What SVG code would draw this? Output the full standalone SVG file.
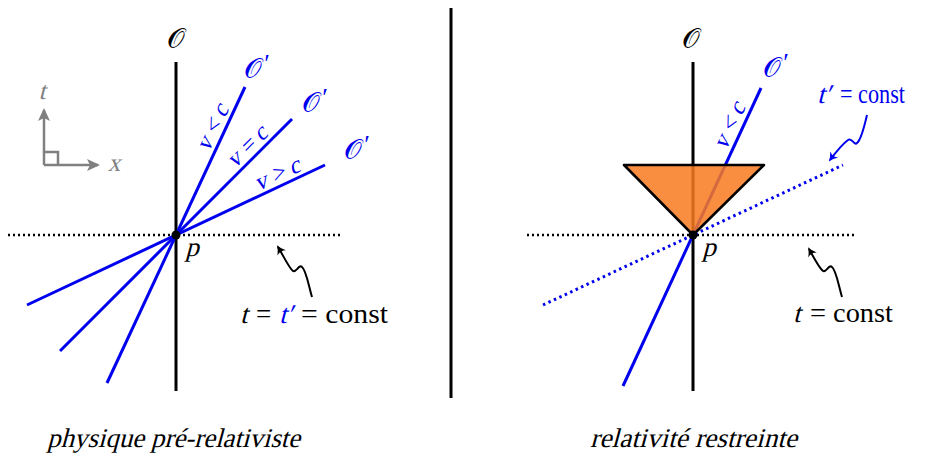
<svg xmlns="http://www.w3.org/2000/svg" width="925" height="461" viewBox="0 0 925 461" font-family="'Liberation Serif', serif">
<style>
.ax{stroke:#000;stroke-width:3;fill:none}
.bl{stroke:#0000ee;stroke-width:3;fill:none}
.dot{stroke:#000;stroke-width:2.5;stroke-dasharray:2 3;fill:none}
.bdot{stroke:#0000ee;stroke-width:3;stroke-dasharray:2.5 3.5;fill:none}
.sq{stroke:#000;stroke-width:2;fill:none}
.bsq{stroke:#0000ee;stroke-width:2;fill:none}
.gr{stroke:#808080;stroke-width:2.5;fill:none}
.b{fill:#0000ee}
.k{fill:#000}
.g{fill:#808080}
.sc{font-family:"DejaVu Serif","DejaVu Sans",serif}
</style>
<defs>
<marker id="ah" markerWidth="12" markerHeight="12" refX="0" refY="0" viewBox="-8 -6 12 12" orient="auto" markerUnits="userSpaceOnUse">
<path d="M2,0 Q-3,-1.5 -7,-5 Q-4,0 -7,5 Q-3,1.5 2,0 Z" fill="#000"/>
</marker>
<marker id="ahb" markerWidth="12" markerHeight="12" refX="0" refY="0" viewBox="-8 -6 12 12" orient="auto" markerUnits="userSpaceOnUse">
<path d="M2,0 Q-3,-1.5 -7,-5 Q-4,0 -7,5 Q-3,1.5 2,0 Z" fill="#0000ee"/>
</marker>
<marker id="ga" markerWidth="14" markerHeight="14" refX="0" refY="0" viewBox="-12 -7 14 14" orient="auto" markerUnits="userSpaceOnUse">
<path d="M2,0 L-11,-6 L-8,0 L-11,6 Z" fill="#808080"/>
</marker>
</defs>

<line id="separator" x1="451" y1="8" x2="451" y2="398" class="ax"/>

<g id="left-panel">
  <g id="axes-legend">
    <path d="M44,165 V110" class="gr" marker-end="url(#ga)"/>
    <path d="M44,165 H98" class="gr" marker-end="url(#ga)"/>
    <path d="M44,152 H58 V165" class="gr" stroke-width="2"/>
    <text transform="translate(42,99) skewX(-15)" class="g" font-size="25" text-anchor="middle">t</text>
    <text transform="translate(114,171) skewX(-15)" class="g" font-size="25" text-anchor="middle">x</text>
  </g>
  <g id="connectors-left">
    <line x1="8" y1="235" x2="340" y2="235" class="dot"/>
    <line x1="176" y1="62" x2="176" y2="391" class="ax"/>
    <line x1="107" y1="383" x2="245" y2="87" class="bl"/>
    <line x1="60" y1="351" x2="292" y2="119" class="bl"/>
    <line x1="27" y1="305" x2="325" y2="165" class="bl"/>
    <path d="M312,297 C308,283 306,270 302,267 C299,264 296,273 293,271 C289,268 283,255 278,247" class="sq" marker-end="url(#ah)"/>
  </g>
  <g id="node-p-left">
    <circle cx="176" cy="235" r="4.5" fill="#000"/>
    <text transform="translate(192,256) skewX(-15)" class="k" font-size="27" text-anchor="middle">p</text>
  </g>
  <g id="labels-left">
    <text x="176" y="48" class="k sc" font-size="28" text-anchor="middle">𝒪</text>
    <text x="253" y="78" class="b sc" font-size="28" text-anchor="middle">𝒪</text>
    <text x="267" y="72" class="b" font-size="26" text-anchor="middle">′</text>
    <text x="311" y="112" class="b sc" font-size="28" text-anchor="middle">𝒪</text>
    <text x="325" y="106" class="b" font-size="26" text-anchor="middle">′</text>
    <text x="353" y="159" class="b sc" font-size="28" text-anchor="middle">𝒪</text>
    <text x="367" y="153" class="b" font-size="26" text-anchor="middle">′</text>
    <text transform="translate(219,131) rotate(-65) skewX(-15)" class="b" font-size="24" text-anchor="middle">v &lt; c</text>
    <text transform="translate(252,152) rotate(-45) skewX(-15)" class="b" font-size="24" text-anchor="middle">v = c</text>
    <text transform="translate(280,181) rotate(-25.2) skewX(-15)" class="b" font-size="24" text-anchor="middle">v &gt; c</text>
    <text transform="translate(240,323) skewX(-15)" class="k" font-size="27">t</text>
    <text x="256" y="323" class="k" font-size="27">=</text>
    <text transform="translate(279,323) skewX(-15)" class="b" font-size="27">t′</text>
    <text x="301" y="323" class="k" font-size="27" textLength="87" lengthAdjust="spacingAndGlyphs">= const</text>
    <text transform="translate(47,447) skewX(-15)" class="k" font-size="27" textLength="253" lengthAdjust="spacingAndGlyphs">physique pré-relativiste</text>
  </g>
</g>

<g id="right-panel">
  <g id="connectors-right">
    <line x1="527" y1="235" x2="857" y2="235" class="dot"/>
    <line x1="693" y1="62" x2="693" y2="391" class="ax"/>
    <line x1="623" y1="386" x2="761" y2="88" class="bl"/>
    <line x1="543" y1="305" x2="843" y2="165" class="bdot"/>
    <path d="M842,297 C838,283 836,270 832,267 C829,264 826,273 823,271 C819,268 813,256 809,249" class="sq" marker-end="url(#ah)"/>
    <path d="M867,115 C864,128 861,140 857,143 C854,146 852,137 848,140 C844,143 836,152 830,160" class="bsq" marker-end="url(#ahb)"/>
  </g>
  <g id="light-cone">
    <path d="M624,165 H764 L693,235 Z" fill="#f97a1f" fill-opacity="0.85" stroke="#000" stroke-width="2.5" stroke-linejoin="round"/>
  </g>
  <g id="node-p-right">
    <circle cx="693" cy="235" r="4.5" fill="#000"/>
    <text transform="translate(709,256) skewX(-15)" class="k" font-size="27" text-anchor="middle">p</text>
  </g>
  <g id="labels-right">
    <text x="691" y="48" class="k sc" font-size="28" text-anchor="middle">𝒪</text>
    <text x="772" y="77" class="b sc" font-size="28" text-anchor="middle">𝒪</text>
    <text x="786" y="71" class="b" font-size="26" text-anchor="middle">′</text>
    <text transform="translate(736,129) rotate(-65.4) skewX(-15)" class="b" font-size="24" text-anchor="middle">v &lt; c</text>
    <text transform="translate(817,103) skewX(-15)" class="b" font-size="27">t′</text>
    <text x="840" y="103" class="b" font-size="27" textLength="65" lengthAdjust="spacingAndGlyphs">= const</text>
    <text transform="translate(793,322) skewX(-15)" class="k" font-size="27">t</text>
    <text x="810" y="322" class="k" font-size="27" textLength="83" lengthAdjust="spacingAndGlyphs">= const</text>
    <text transform="translate(590,447) skewX(-15)" class="k" font-size="27" textLength="207" lengthAdjust="spacingAndGlyphs">relativité restreinte</text>
  </g>
</g>
</svg>
